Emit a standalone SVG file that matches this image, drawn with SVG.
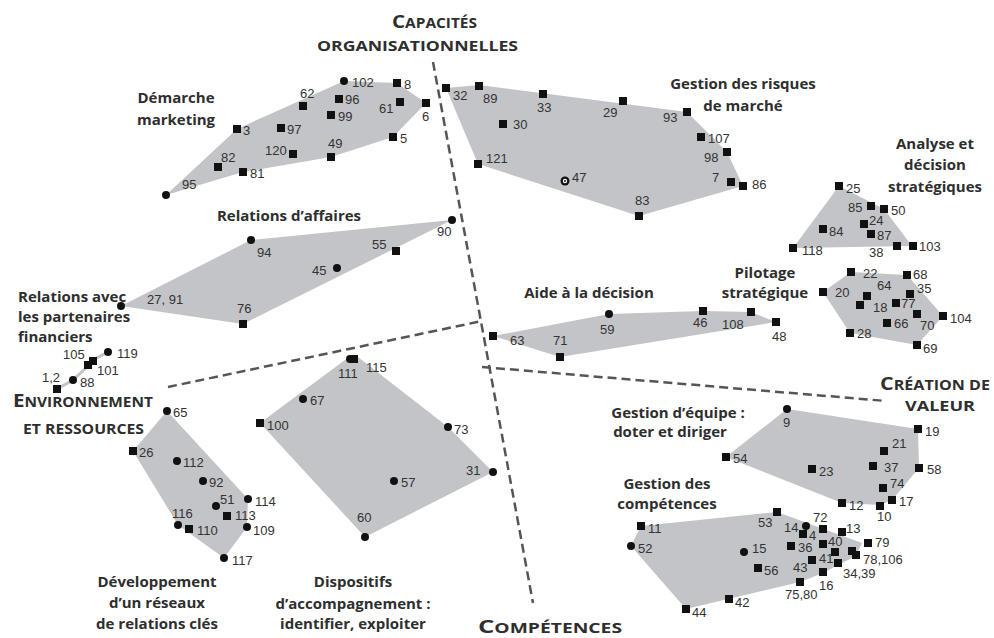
<svg xmlns="http://www.w3.org/2000/svg" xmlns:xlink="http://www.w3.org/1999/xlink" width="994" height="638" viewBox="0 0 994 638">
<style>
.hull{fill:#c3c4c7;stroke:none}
.n{font-family:"Liberation Sans",Arial,sans-serif;font-size:13px;fill:#333}
.t{font-family:"Open Sans","Liberation Sans",sans-serif;font-weight:700;font-size:15px;fill:#2e2e2e;text-anchor:middle}
.big{font-family:"Open Sans","Liberation Sans",sans-serif;font-weight:700;font-size:13.5px;fill:#2e2e2e}
.cap{font-size:18px}
.dash{fill:none;stroke:#555;stroke-width:2.5;stroke-dasharray:9 5}
</style>
<defs>
<rect id="sq" x="-4" y="-4" width="8" height="8" fill="#111"/>
<circle id="ci" r="4" fill="#111"/>
</defs>
<rect width="994" height="638" fill="#fff"/>

<g id="boundaries">
<line class="dash" x1="433" y1="62" x2="533" y2="603"/>
<line class="dash" x1="168" y1="387" x2="482" y2="321"/>
<line class="dash" x1="482" y1="367" x2="886" y2="401"/>
</g>

<g id="titles">
<text class="big" x="392" y="28" textLength="85" lengthAdjust="spacingAndGlyphs"><tspan class="cap">C</tspan>APACITÉS</text>
<text class="big" x="317" y="51" textLength="201" lengthAdjust="spacingAndGlyphs">ORGANISATIONNELLES</text>
<text class="big" x="13" y="407" textLength="140" lengthAdjust="spacingAndGlyphs"><tspan class="cap">E</tspan>NVIRONNEMENT</text>
<text class="big" x="23" y="434" textLength="121" lengthAdjust="spacingAndGlyphs">ET RESSOURCES</text>
<text class="big" x="478" y="633" textLength="144" lengthAdjust="spacingAndGlyphs"><tspan class="cap">C</tspan>OMPÉTENCES</text>
<text class="big" x="880" y="390" textLength="110" lengthAdjust="spacingAndGlyphs"><tspan class="cap">C</tspan>RÉATION  DE</text>
<text class="big" x="905" y="411" textLength="70" lengthAdjust="spacingAndGlyphs">VALEUR</text>
</g>

<g id="demarche-marketing">
<polygon class="hull" points="166,195 237,129 344,81 397,83 426,103 393,137 331,157 243,172"/>
<use href="#ci" x="344" y="81"/><use href="#sq" x="397" y="83"/><use href="#sq" x="303" y="106"/><use href="#sq" x="339" y="99"/>
<use href="#sq" x="331" y="115"/><use href="#sq" x="400" y="102"/><use href="#sq" x="426" y="103"/><use href="#sq" x="237" y="129"/>
<use href="#sq" x="281" y="128"/><use href="#sq" x="393" y="137"/><use href="#sq" x="293" y="154"/><use href="#sq" x="331" y="157"/>
<use href="#sq" x="218" y="167"/><use href="#sq" x="243" y="172"/><use href="#ci" x="166" y="195"/>
<text class="n" x="352" y="87">102</text><text class="n" x="404" y="89">8</text><text class="n" x="300" y="98">62</text>
<text class="n" x="345" y="104">96</text><text class="n" x="338" y="121">99</text><text class="n" x="379" y="113">61</text>
<text class="n" x="422" y="121">6</text><text class="n" x="243" y="135">3</text><text class="n" x="287" y="134">97</text>
<text class="n" x="400" y="143">5</text><text class="n" x="265" y="155">120</text><text class="n" x="328" y="148">49</text>
<text class="n" x="221" y="162">82</text><text class="n" x="250" y="178">81</text><text class="n" x="182" y="189">95</text>
<text class="t" x="176" y="103">Démarche</text><text class="t" x="176" y="125">marketing</text>
</g>

<g id="risques-marche">
<polygon class="hull" points="446,88 479,85 687,112 727,152 743,186 639,216 478,164"/>
<use href="#sq" x="446" y="88"/><use href="#sq" x="479" y="86"/><use href="#sq" x="543" y="94"/><use href="#sq" x="623" y="101"/>
<use href="#sq" x="687" y="112"/><use href="#sq" x="503" y="124"/><use href="#sq" x="701" y="137"/><use href="#sq" x="727" y="152"/>
<use href="#sq" x="478" y="164"/><use href="#sq" x="731" y="182"/><use href="#sq" x="743" y="186"/><use href="#sq" x="639" y="216"/>
<circle cx="565" cy="181" r="4.5" fill="#111"/><circle cx="565" cy="181" r="2.2" fill="#fff"/><circle cx="565" cy="181" r="1" fill="#111"/>
<text class="n" x="453" y="100">32</text><text class="n" x="483" y="103">89</text><text class="n" x="537" y="112">33</text>
<text class="n" x="603" y="117">29</text><text class="n" x="663" y="122">93</text><text class="n" x="513" y="129">30</text>
<text class="n" x="708" y="143">107</text><text class="n" x="704" y="162">98</text><text class="n" x="486" y="163">121</text>
<text class="n" x="572" y="182">47</text><text class="n" x="712" y="182">7</text><text class="n" x="752" y="189">86</text>
<text class="n" x="635" y="205">83</text>
<text class="t" x="743" y="89">Gestion des risques</text><text class="t" x="743" y="111">de marché</text>
</g>

<g id="analyse-decision">
<polygon class="hull" points="839,186 884,209 912,246 793,248"/>
<use href="#sq" x="839" y="186"/><use href="#sq" x="871" y="206"/><use href="#sq" x="884" y="209"/><use href="#sq" x="864" y="224"/>
<use href="#sq" x="823" y="229"/><use href="#sq" x="871" y="234"/><use href="#sq" x="793" y="248"/><use href="#sq" x="897" y="246"/>
<use href="#sq" x="913" y="246"/>
<text class="n" x="846" y="193">25</text><text class="n" x="848" y="212">85</text><text class="n" x="891" y="215">50</text>
<text class="n" x="869" y="225">24</text><text class="n" x="829" y="236">84</text><text class="n" x="877" y="240">87</text>
<text class="n" x="802" y="255">118</text><text class="n" x="869" y="257">38</text><text class="n" x="919" y="251">103</text>
<text class="t" x="935" y="149">Analyse et</text><text class="t" x="935" y="170">décision</text><text class="t" x="935" y="192">stratégiques</text>
</g>

<g id="pilotage-strategique">
<polygon class="hull" points="851,272 907,275 943,316 917,345 850,333 823,292"/>
<use href="#sq" x="851" y="272"/><use href="#sq" x="907" y="275"/><use href="#sq" x="823" y="292"/><use href="#sq" x="867" y="296"/>
<use href="#sq" x="910" y="294"/><use href="#sq" x="860" y="305"/><use href="#sq" x="896" y="303"/><use href="#sq" x="943" y="316"/>
<use href="#sq" x="917" y="314"/><use href="#sq" x="887" y="323"/><use href="#sq" x="850" y="333"/><use href="#sq" x="917" y="345"/>
<text class="n" x="863" y="278">22</text><text class="n" x="913" y="279">68</text><text class="n" x="835" y="297">20</text>
<text class="n" x="877" y="290">64</text><text class="n" x="917" y="293">35</text><text class="n" x="873" y="312">18</text>
<text class="n" x="901" y="308">77</text><text class="n" x="950" y="323">104</text><text class="n" x="920" y="330">70</text>
<text class="n" x="894" y="328">66</text><text class="n" x="857" y="338">28</text><text class="n" x="923" y="353">69</text>
<text class="t" x="765" y="278">Pilotage</text><text class="t" x="765" y="298">stratégique</text>
</g>

<g id="aide-decision">
<polygon class="hull" points="493,336 609,314 703,311 751,312 776,322 560,357"/>
<use href="#sq" x="493" y="336"/><use href="#sq" x="560" y="357"/><use href="#ci" x="609" y="314"/><use href="#sq" x="703" y="311"/>
<use href="#sq" x="751" y="312"/><use href="#sq" x="776" y="322"/>
<text class="n" x="510" y="345">63</text><text class="n" x="553" y="345">71</text><text class="n" x="600" y="334">59</text>
<text class="n" x="693" y="327">46</text><text class="n" x="722" y="329">108</text><text class="n" x="772" y="341">48</text>
<text class="t" x="589" y="298">Aide à la décision</text>
</g>

<g id="relations-affaires">
<polygon class="hull" points="121,306 251,240 452,220 243,324"/>
<use href="#ci" x="452" y="220"/><use href="#ci" x="251" y="240"/><use href="#sq" x="396" y="251"/><use href="#ci" x="337" y="268"/>
<use href="#ci" x="121" y="306"/><use href="#sq" x="243" y="324"/>
<text class="n" x="437" y="236">90</text><text class="n" x="257" y="257">94</text><text class="n" x="372" y="249">55</text>
<text class="n" x="312" y="275">45</text><text class="n" x="147" y="304">27, 91</text><text class="n" x="237" y="313">76</text>
<text class="t" x="289" y="221">Relations d’affaires</text>
</g>

<g id="partenaires-financiers">
<polyline points="57,389 73,380 88,366 93,360 108,352" fill="none" stroke="#c3c4c7" stroke-width="3"/>
<use href="#sq" x="93" y="361"/><use href="#ci" x="108" y="352"/><use href="#sq" x="88" y="365"/><use href="#ci" x="73" y="380"/>
<use href="#sq" x="57" y="389"/>
<text class="n" x="63" y="359">105</text><text class="n" x="117" y="358">119</text><text class="n" x="97" y="375">101</text>
<text class="n" x="42" y="382">1,2</text><text class="n" x="80" y="387">88</text>
<text class="t" x="18" y="302" style="text-anchor:start">Relations avec</text>
<text class="t" x="18" y="322" style="text-anchor:start">les partenaires</text>
<text class="t" x="18" y="342" style="text-anchor:start">financiers</text>
</g>

<g id="reseau-relations">
<polygon class="hull" points="167,411 248,499 247,527 224,558 178,525 133,451"/>
<use href="#ci" x="167" y="411"/><use href="#sq" x="133" y="451"/><use href="#ci" x="177" y="461"/><use href="#ci" x="203" y="481"/>
<use href="#ci" x="216" y="506"/><use href="#ci" x="248" y="499"/><use href="#sq" x="227" y="516"/><use href="#ci" x="178" y="525"/>
<use href="#sq" x="189" y="529"/><use href="#ci" x="247" y="527"/><use href="#ci" x="224" y="558"/>
<text class="n" x="173" y="417">65</text><text class="n" x="139" y="457">26</text><text class="n" x="183" y="467">112</text>
<text class="n" x="209" y="487">92</text><text class="n" x="220" y="504">51</text><text class="n" x="255" y="506">114</text>
<text class="n" x="235" y="520">113</text><text class="n" x="172" y="518">116</text><text class="n" x="197" y="535">110</text>
<text class="n" x="253" y="535">109</text><text class="n" x="232" y="565">117</text>
<text class="t" x="157" y="587">Développement</text><text class="t" x="157" y="608">d’un réseaux</text><text class="t" x="157" y="629">de relations clés</text>
</g>

<g id="dispositifs-accompagnement">
<polygon class="hull" points="349,357 358,357 448,427 493,472 365,537 260,423"/>
<use href="#ci" x="350" y="359"/><use href="#sq" x="354" y="359"/><use href="#ci" x="303" y="399"/><use href="#sq" x="260" y="423"/>
<use href="#ci" x="448" y="427"/><use href="#ci" x="493" y="472"/><use href="#ci" x="394" y="481"/><use href="#ci" x="365" y="537"/>
<text class="n" x="338" y="378">111</text><text class="n" x="366" y="372">115</text><text class="n" x="310" y="405">67</text>
<text class="n" x="267" y="430">100</text><text class="n" x="454" y="434">73</text><text class="n" x="466" y="475">31</text>
<text class="n" x="401" y="487">57</text><text class="n" x="357" y="522">60</text>
<text class="t" x="353" y="587">Dispositifs</text><text class="t" x="353" y="609">d’accompagnement :</text><text class="t" x="353" y="629">identifier, exploiter</text>
</g>

<g id="gestion-equipe">
<polygon class="hull" points="787,409 918,429 919,468 892,500 880,505 842,503 726,457"/>
<use href="#ci" x="787" y="409"/><use href="#sq" x="918" y="429"/><use href="#sq" x="884" y="451"/><use href="#sq" x="726" y="457"/>
<use href="#sq" x="873" y="466"/><use href="#sq" x="919" y="468"/><use href="#sq" x="812" y="469"/><use href="#sq" x="883" y="488"/>
<use href="#sq" x="892" y="500"/><use href="#sq" x="842" y="503"/><use href="#sq" x="880" y="506"/>
<text class="n" x="783" y="427">9</text><text class="n" x="925" y="436">19</text><text class="n" x="892" y="448">21</text>
<text class="n" x="733" y="463">54</text><text class="n" x="884" y="472">37</text><text class="n" x="927" y="474">58</text>
<text class="n" x="819" y="476">23</text><text class="n" x="890" y="488">74</text><text class="n" x="899" y="506">17</text>
<text class="n" x="849" y="510">12</text><text class="n" x="877" y="521">10</text>
<text class="t" x="678" y="418">Gestion d’équipe :</text><text class="t" x="670" y="437">doter et diriger</text>
</g>

<g id="gestion-competences">
<polygon class="hull" points="641,526 777,512 862,543 856,556 838,565 823,573 800,582 686,609 631,546"/>
<use href="#sq" x="777" y="512"/><use href="#sq" x="641" y="526"/><use href="#sq" x="823" y="529"/><use href="#sq" x="842" y="532"/>
<use href="#sq" x="803" y="534"/><use href="#ci" x="806" y="526"/><use href="#sq" x="868" y="543"/><use href="#sq" x="823" y="544"/>
<use href="#sq" x="791" y="546"/><use href="#ci" x="631" y="546"/><use href="#ci" x="744" y="552"/><use href="#sq" x="835" y="552"/>
<use href="#sq" x="852" y="551"/><use href="#sq" x="856" y="555"/><use href="#sq" x="812" y="560"/><use href="#sq" x="838" y="563"/>
<use href="#sq" x="758" y="568"/><use href="#sq" x="823" y="572"/><use href="#sq" x="800" y="582"/><use href="#sq" x="729" y="599"/>
<use href="#sq" x="686" y="609"/>
<text class="n" x="758" y="527">53</text><text class="n" x="648" y="533">11</text><text class="n" x="813" y="522">72</text>
<text class="n" x="784" y="532">14</text><text class="n" x="846" y="533">13</text><text class="n" x="809" y="540">4</text>
<text class="n" x="638" y="553">52</text><text class="n" x="875" y="547">79</text><text class="n" x="828" y="546">40</text>
<text class="n" x="798" y="552">36</text><text class="n" x="752" y="553">15</text><text class="n" x="819" y="563">41</text>
<text class="n" x="863" y="564">78,106</text><text class="n" x="793" y="572">43</text><text class="n" x="843" y="578">34,39</text>
<text class="n" x="764" y="575">56</text><text class="n" x="819" y="590">16</text><text class="n" x="785" y="599">75,80</text>
<text class="n" x="735" y="607">42</text><text class="n" x="692" y="617">44</text>
<text class="t" x="667" y="489">Gestion des</text><text class="t" x="667" y="509">compétences</text>
</g>
</svg>
